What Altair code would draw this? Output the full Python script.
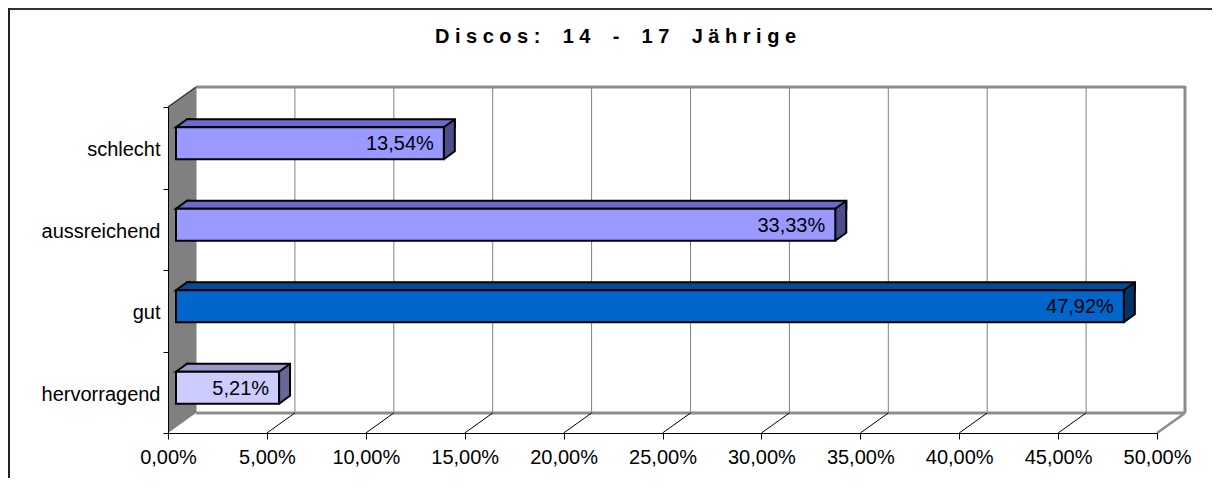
import altair as alt
import pandas as pd

# ---------------- data ----------------
categories = ["schlecht", "aussreichend", "gut", "hervorragend"]
values = [13.54, 33.33, 47.92, 5.21]
front_colors = ["#9999FF", "#9999FF", "#0066CC", "#CCCCFF"]
top_colors = ["#6B6BCC", "#6B6BCC", "#004C99", "#9999CC"]
side_colors = ["#4D4D8C", "#4D4D8C", "#003366", "#666699"]
tick_values = [0, 5, 10, 15, 20, 25, 30, 35, 40, 45, 50]
title_text = "Discos: 14 - 17 Jährige"

# ---------------- geometry / style ----------------
W, H = 989, 326            # front plot area
DX, DY = 28, -20           # depth of the 3D box
FX, FY = 8, -4.5           # offset of bar front face
BH = 32                    # bar front-face height
BDX, BDY = 11, -8          # bar depth
FONT = "Liberation Sans"
LBL = 20
CAT = 20

yt = FY - BH / 2
yb = FY + BH / 2
left_path = f"M{BDX+4},{yt+BDY} L{BDX},{yt+BDY} L0,{yt} L{BDX+4},{yt}"
side_path = f"M0,{yt} L{BDX},{yt+BDY} L{BDX},{yb+BDY} L0,{yb} Z"
wall_path = f"M0,0 L{DX},{DY} L{DX},{H+DY} L0,{H} Z"

NB = "\u00a0"
spaced_title = (NB * 4).join(NB.join(list(w)) for w in title_text.split(" "))

bars = pd.DataFrame({
    "cat": categories, "v": values, "x0": [0] * len(values),
    "front": front_colors, "top": top_colors, "side": side_colors,
})
ticks = pd.DataFrame({"t": tick_values})
ext = pd.DataFrame({"a": [tick_values[0]], "b": [tick_values[-1]]})

xs = alt.Scale(domain=[tick_values[0], tick_values[-1]], nice=False, zero=False)
ys = alt.Scale(domain=categories, paddingInner=0, paddingOuter=0)

x_axis = alt.Axis(
    values=tick_values, title=None, grid=False,
    labelExpr="replace(format(datum.value, '.2f'), '.', ',') + '%'",
    domainColor="black", tickColor="black", tickSize=6, domainWidth=1,
    labelFont=FONT, labelFontSize=LBL, labelColor="black", labelPadding=8,
    labelFlush=False, labelOverlap=False, zindex=1,
)
y_axis = alt.Axis(
    title=None, grid=False, tickBand="extent",
    domainColor="black", tickColor="black", tickSize=5, domainWidth=1,
    labelFont=FONT, labelFontSize=CAT, labelColor="black", labelPadding=3,
    labelOffset=2, zindex=1,
)

def X(field):
    return alt.X(field, scale=xs, axis=x_axis)

def Y(field):
    return alt.Y(field, scale=ys, sort=categories, axis=y_axis)

# ---------------- chrome ----------------
border_top = alt.Chart(ext).mark_rule(color="#333333", strokeWidth=2).encode(
    x=alt.value(-159), x2=alt.value(W + 60), y=alt.value(-98))
border_left = alt.Chart(ext).mark_rule(color="#222222", strokeWidth=2).encode(
    x=alt.value(-159), y=alt.value(-99), y2=alt.value(H + 60))

wall = alt.Chart(ext).mark_point(
    shape=wall_path, size=4, filled=True, opacity=1, fill="#808080", strokeWidth=0
).encode(x=X("a:Q"), y=alt.value(0))

wall_edge = alt.Chart(ext).mark_rule(color="#333333", strokeWidth=1.5, x2Offset=DX).encode(
    x=X("a:Q"), x2="a:Q", y=alt.value(0), y2=alt.value(DY))

grid = alt.Chart(ticks).mark_rule(color="#808080", strokeWidth=1, xOffset=DX).encode(
    x=X("t:Q"), y=alt.value(DY), y2=alt.value(H + DY))

wall_top = alt.Chart(ext).mark_rule(color="#8C8C8C", strokeWidth=3, xOffset=DX, x2Offset=DX).encode(
    x=X("a:Q"), x2="b:Q", y=alt.value(DY))
wall_right = alt.Chart(ext).mark_rule(color="#8C8C8C", strokeWidth=3, xOffset=DX).encode(
    x=X("b:Q"), y=alt.value(DY - 1), y2=alt.value(H + DY))
floor_back = alt.Chart(ext).mark_rule(color="#8C8C8C", strokeWidth=3, xOffset=DX, x2Offset=DX).encode(
    x=X("a:Q"), x2="b:Q", y=alt.value(H + DY))
floor_right = alt.Chart(ext).mark_rule(color="#8C8C8C", strokeWidth=2.5, x2Offset=DX).encode(
    x=X("b:Q"), x2="b:Q", y=alt.value(H), y2=alt.value(H + DY))
floor_diag = alt.Chart(ticks).transform_filter(
    (alt.datum.t > tick_values[0]) & (alt.datum.t < tick_values[-1])
).mark_rule(color="black", strokeWidth=1, x2Offset=DX).encode(
    x=X("t:Q"), x2="t:Q", y=alt.value(H), y2=alt.value(H + DY))

# ---------------- bars ----------------
top_face = alt.Chart(bars).mark_bar(
    height=abs(BDY), yOffset=FY - BH / 2 + BDY / 2,
    xOffset=FX + BDX, x2Offset=FX + BDX, stroke="black", strokeWidth=2
).encode(x=X("x0:Q"), x2="v:Q", y=Y("cat:N"), fill=alt.Fill("top:N", scale=None))

left_cap = alt.Chart(bars).mark_point(
    shape=left_path, size=4, filled=True, opacity=1, stroke="black", strokeWidth=2, xOffset=FX
).encode(x=X("x0:Q"), y=Y("cat:N"), fill=alt.Fill("top:N", scale=None))

side_face = alt.Chart(bars).mark_point(
    shape=side_path, size=4, filled=True, opacity=1, stroke="black", strokeWidth=2,
    strokeJoin="round", xOffset=FX
).encode(x=X("v:Q"), y=Y("cat:N"), fill=alt.Fill("side:N", scale=None))

front_face = alt.Chart(bars).mark_bar(
    height=BH, yOffset=FY, xOffset=FX, x2Offset=FX, stroke="black", strokeWidth=2
).encode(x=X("x0:Q"), x2="v:Q", y=Y("cat:N"), fill=alt.Fill("front:N", scale=None))

labels = alt.Chart(bars).transform_calculate(
    label="replace(format(datum.v, '.2f'), '.', ',') + '%'"
).mark_text(
    align="right", baseline="middle", font=FONT, fontSize=LBL, color="black",
    xOffset=FX - 10, yOffset=FY + 1
).encode(x=X("v:Q"), y=Y("cat:N"), text="label:N")

title = alt.Chart(pd.DataFrame({"title": [spaced_title]})).mark_text(
    align="center", baseline="alphabetic", font=FONT, fontSize=20, fontWeight="bold", color="black"
).encode(text="title:N", x=alt.value(447.5), y=alt.value(-64))

chart = alt.layer(
    border_top, border_left,
    wall, grid, wall_top, wall_right, floor_back, floor_right, floor_diag, wall_edge,
    top_face, left_cap, side_face, front_face, labels, title,
).properties(
    width=W, height=H,
    padding={"left": 160, "top": 99, "right": 55, "bottom": 45},
    autosize=alt.AutoSizeParams(type="none"),
    background="white",
).configure_view(stroke=None)

chart.save("out.html", embed_options={"renderer": "svg", "actions": False})
